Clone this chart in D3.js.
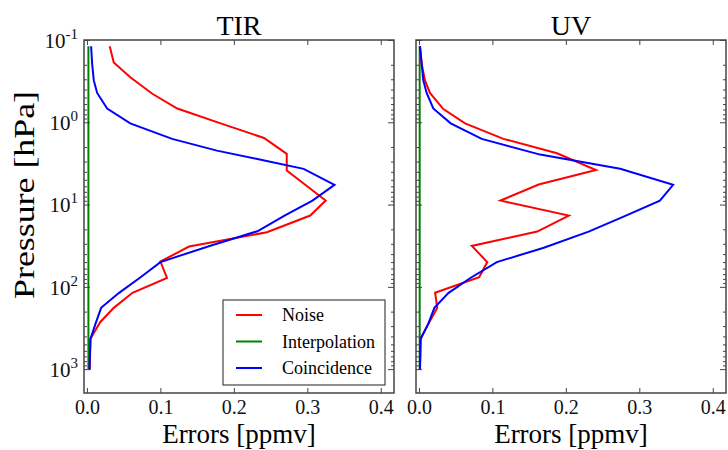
<!DOCTYPE html>
<html>
<head>
<meta charset="utf-8">
<script src="https://cdn.jsdelivr.net/npm/d3@7"></script>
<style>
  html, body { margin: 0; padding: 0; background: #fff; }
  svg { display: block; font-family: "Liberation Serif", "DejaVu Serif", serif; }
</style>
</head>
<body>
<svg id="chart" width="728" height="450"></svg>
<script>
// ---- data ----
const xTicks = [0.0, 0.1, 0.2, 0.3, 0.4];
const yTicks = [0.1, 1, 10, 100, 1000];
const yTickExp = ['-1', '0', '1', '2', '3'];

// TIR panel
const tirNoiseP   = [0.119, 0.187, 0.284, 0.45, 0.68, 1.03, 1.55, 2.42, 3.86, 8.94, 13.6, 21.7, 32.4, 49.3, 77.8, 118, 180, 269, 428, 1020];
const tirNoiseE   = [0.031, 0.0365, 0.059, 0.089, 0.123, 0.182, 0.241, 0.272, 0.272, 0.325, 0.304, 0.245, 0.139, 0.100, 0.109, 0.062, 0.0365, 0.018, 0.0048, 0.0038];
const tirCoincP   = [0.119, 0.195, 0.31, 0.44, 0.68, 1.03, 1.59, 2.21, 2.79, 3.68, 5.76, 8.94, 13.6, 21.1, 31.6, 50.1, 76.4, 119, 180, 282, 428, 1020];
const tirCoincE   = [0.0057, 0.0071, 0.0093, 0.0139, 0.0275, 0.059, 0.116, 0.177, 0.232, 0.295, 0.337, 0.307, 0.269, 0.232, 0.168, 0.100, 0.073, 0.0433, 0.0193, 0.0116, 0.0048, 0.0034];
const tirInterpP  = [0.119, 1020];
const tirInterpE  = [0.002, 0.002];

// UV panel
const uvNoiseP    = [0.119, 0.195, 0.31, 0.44, 0.69, 1.03, 1.59, 2.38, 3.81, 5.7, 8.94, 13.6, 21.3, 31.8, 50, 76.4, 118, 180, 282, 428, 1020];
const uvNoiseE    = [0.0014, 0.0037, 0.0082, 0.015, 0.0332, 0.0628, 0.115, 0.188, 0.241, 0.163, 0.111, 0.204, 0.161, 0.072, 0.093, 0.082, 0.022, 0.025, 0.0127, 0.0023, 0.0014];
const uvCoincP    = [0.119, 0.31, 0.44, 0.68, 1.03, 1.59, 2.47, 3.68, 5.76, 8.94, 14.2, 21.3, 33.5, 50, 78, 119, 180, 282, 428, 1020];
const uvCoincE    = [0.0014, 0.0059, 0.0105, 0.0195, 0.0432, 0.0855, 0.165, 0.274, 0.346, 0.328, 0.277, 0.231, 0.170, 0.106, 0.070, 0.040, 0.021, 0.0127, 0.0023, 0.0014];
const uvInterpP   = [0.119, 1020];
const uvInterpE   = [0.001, 0.001];

const legendNames  = ['Noise', 'Interpolation', 'Coincidence'];
const legendColors = ['#ff0000', '#008000', '#0000ff'];

const panels = [
  { title: 'TIR', x0: 84, series: [
      { p: tirInterpP, e: tirInterpE, color: '#008000' },
      { p: tirNoiseP,  e: tirNoiseE,  color: '#ff0000' },
      { p: tirCoincP,  e: tirCoincE,  color: '#0000ff' } ] },
  { title: 'UV', x0: 416, series: [
      { p: uvInterpP, e: uvInterpE, color: '#008000' },
      { p: uvNoiseP,  e: uvNoiseE,  color: '#ff0000' },
      { p: uvCoincP,  e: uvCoincE,  color: '#0000ff' } ] }
];

// ---- layout ----
const svg = d3.select('#chart');
const plotTop = 40, plotBottom = 393, panelW = 310;
const frameColor = '#444';
const serif = '"Liberation Serif", "Times New Roman", serif';

const y = d3.scaleLog().domain([0.1, 1950]).range([plotTop, plotBottom]);

// minor log ticks
const yMinor = [];
yTicks.forEach(d => {
  for (let k = 2; k <= 9; k++) {
    const v = d * k;
    if (v < 1950) yMinor.push(v);
  }
});

panels.forEach((pan, pi) => {
  const x = d3.scaleLinear().domain([-0.004, 0.418]).range([pan.x0, pan.x0 + panelW]);
  const g = svg.append('g');

  // data lines
  const line = d3.line()
    .x(d => x(d[1]))
    .y(d => y(d[0]));

  pan.series.forEach(s => {
    g.append('path')
      .datum(s.p.map((p, i) => [p, s.e[i]]))
      .attr('d', line)
      .attr('fill', 'none')
      .attr('stroke', s.color)
      .attr('stroke-width', 2)
      .attr('stroke-linejoin', 'miter');
  });

  // x ticks bottom (inward) with labels
  const xb = g.append('g')
    .attr('transform', 'translate(0,' + plotBottom + ')')
    .call(d3.axisBottom(x).tickValues(xTicks).tickSize(-5).tickPadding(7)
      .tickFormat(d3.format('.1f')));
  xb.selectAll('text').attr('font-size', 20).attr('fill', '#111')
    .attr('font-family', serif);

  // x ticks top
  g.append('g')
    .attr('transform', 'translate(0,' + plotTop + ')')
    .call(d3.axisTop(x).tickValues(xTicks).tickSize(-5).tickFormat(''));

  // y ticks left & right (major + minor)
  const yl = g.append('g')
    .attr('transform', 'translate(' + pan.x0 + ',0)')
    .call(d3.axisLeft(y).tickValues(yTicks).tickSize(-6).tickPadding(8).tickFormat(''));
  g.append('g')
    .attr('transform', 'translate(' + pan.x0 + ',0)')
    .call(d3.axisLeft(y).tickValues(yMinor).tickSize(-3).tickFormat(''));
  g.append('g')
    .attr('transform', 'translate(' + (pan.x0 + panelW) + ',0)')
    .call(d3.axisRight(y).tickValues(yTicks).tickSize(-6).tickFormat(''));
  g.append('g')
    .attr('transform', 'translate(' + (pan.x0 + panelW) + ',0)')
    .call(d3.axisRight(y).tickValues(yMinor).tickSize(-3).tickFormat(''));

  if (pi === 0) {
    yl.selectAll('.tick text').each(function(d, i) {
      const t = d3.select(this)
        .attr('font-size', 21).attr('fill', '#111')
        .attr('font-family', serif)
        .attr('text-anchor', 'end')
        .attr('x', -6).attr('dy', '0.35em');
      t.append('tspan').text('10');
      t.append('tspan').attr('font-size', 15).attr('dy', -9).text(yTickExp[i]);
    });
  }

  g.selectAll('.domain').remove();
  g.selectAll('.tick line').attr('stroke', frameColor).attr('stroke-width', 1);

  // frame
  g.append('rect')
    .attr('x', pan.x0).attr('y', plotTop)
    .attr('width', panelW).attr('height', plotBottom - plotTop)
    .attr('fill', 'none').attr('stroke', frameColor).attr('stroke-width', 1.5);

  // title
  g.append('text')
    .attr('x', pan.x0 + panelW / 2).attr('y', 35)
    .attr('text-anchor', 'middle').attr('font-size', 28).attr('fill', '#000')
    .attr('font-family', serif)
    .text(pan.title);

  // x label
  g.append('text')
    .attr('x', pan.x0 + panelW / 2).attr('y', 443)
    .attr('text-anchor', 'middle').attr('font-size', 27).attr('fill', '#000')
    .attr('font-family', serif)
    .text('Errors [ppmv]');
});

// y label
svg.append('text')
  .attr('transform', 'translate(34,195) rotate(-90)')
  .attr('text-anchor', 'middle').attr('font-size', 30).attr('fill', '#000')
  .attr('font-family', serif)
  .attr('textLength', 208).attr('lengthAdjust', 'spacingAndGlyphs')
  .text('Pressure [hPa]');

// legend in TIR panel
const leg = svg.append('g').attr('transform', 'translate(223,300)');
leg.append('rect')
  .attr('width', 162).attr('height', 85)
  .attr('fill', '#fff').attr('stroke', frameColor).attr('stroke-width', 1.2);
legendNames.forEach((name, i) => {
  const yy = 15 + i * 26.5;
  leg.append('line')
    .attr('x1', 13).attr('x2', 39).attr('y1', yy).attr('y2', yy)
    .attr('stroke', legendColors[i]).attr('stroke-width', 2);
  leg.append('text')
    .attr('x', 59).attr('y', yy + 6)
    .attr('font-size', 18).attr('fill', '#000')
    .attr('font-family', serif)
    .text(name);
});
</script>
</body>
</html>
